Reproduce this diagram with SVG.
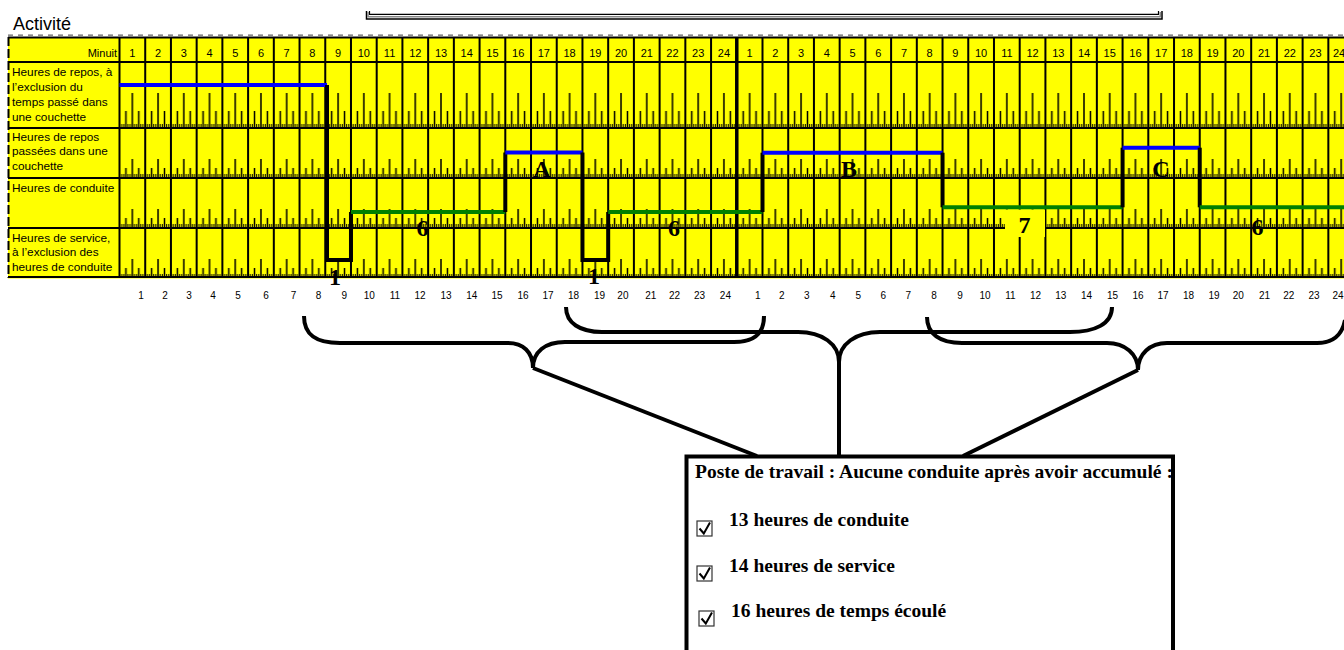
<svg xmlns="http://www.w3.org/2000/svg" width="1344" height="650" viewBox="0 0 1344 650">
<style>
.lbl{font-family:"Liberation Sans",Arial,sans-serif;font-size:11.8px;fill:#000}
.hd{font-family:"Liberation Sans",Arial,sans-serif;font-size:11px;text-anchor:middle;fill:#000}
.ax{font-family:"Liberation Sans",Arial,sans-serif;font-size:10px;text-anchor:middle;fill:#000}
.big{font-family:"Liberation Serif","Times New Roman",serif;font-weight:bold;font-size:24px;text-anchor:middle;fill:#000}
.bx{font-family:"Liberation Serif","Times New Roman",serif;font-weight:bold;font-size:19.5px;fill:#000}
.grid{stroke:#000;stroke-width:2;fill:none}
.blk{stroke:#000;stroke-width:4;fill:none}
.blu{stroke:#0000ff;stroke-width:4;fill:none}
.grn{stroke:#008000;stroke-width:4;fill:none}
.brace{stroke:#000;stroke-width:4;fill:none}
.cb{fill:#fff;stroke:#333;stroke-width:1.2}
.ck{fill:none;stroke:#000;stroke-width:2}
</style>
<defs>
<pattern id="tk1" patternUnits="userSpaceOnUse" x="119.5" y="62" width="25.72" height="66">
<path d="M12.86 31V66M6.43 49V66M19.29 49V66" stroke="#000" stroke-width="1.5"/>
<path d="M2.14 62V66M4.29 62V66M8.57 62V66M10.72 62V66M15 62V66M17.15 62V66M21.43 62V66M23.58 62V66" stroke="#000" stroke-width="1"/>
</pattern>
<pattern id="tk2" patternUnits="userSpaceOnUse" x="119.5" y="128" width="25.72" height="50">
<path d="M12.86 31V50M6.43 40V50M19.29 40V50" stroke="#000" stroke-width="1.5"/>
<path d="M2.14 46V50M4.29 46V50M8.57 46V50M10.72 46V50M15 46V50M17.15 46V50M21.43 46V50M23.58 46V50" stroke="#000" stroke-width="1"/>
</pattern>
</defs>
<rect width="1344" height="650" fill="#fff"/>

<g id="title">
<text x="13" y="30" style="font-family:'Liberation Sans',Arial,sans-serif;font-size:18px">Activité</text>
<path d="M366.5 11V19H1162V11" stroke="#000" stroke-width="1.5" fill="none"/>
<path d="M368 12V16.7H1160.3V12" stroke="#888" stroke-width="1.5" fill="none"/>
<path d="M369.5 11V14.3H1158.5V11" stroke="#000" stroke-width="1.2" fill="none"/>
</g>

<g id="chart">
<rect x="8" y="37" width="1336" height="241.5" fill="#ffff00"/>
<rect x="119.5" y="62" width="1236" height="66" fill="url(#tk1)"/>
<rect x="119.5" y="128" width="1236" height="150" fill="url(#tk2)"/>
<path class="grid" d="M8 62H1344M8 128H1344M8 178H1344M8 228H1344M8 277H1344"/>
<path class="grid" d="M8 37.5H1344" stroke-width="2.5"/>
<path d="M8 35.2H1344" stroke="#666" stroke-width="1.3" stroke-dasharray="5 5" fill="none"/>
<path d="M8.5 37V278" stroke="#000" stroke-width="2" stroke-dasharray="9 3" fill="none"/>
<path class="grid" d="M119.5 37V277M145.22 37V277M170.94 37V277M196.66 37V277M222.38 37V277M248.1 37V277M273.82 37V277M299.54 37V277M325.26 37V277M350.98 37V277M376.7 37V277M402.42 37V277M428.14 37V277M453.86 37V277M479.58 37V277M505.3 37V277M531.02 37V277M556.74 37V277M582.46 37V277M608.18 37V277M633.9 37V277M659.62 37V277M685.34 37V277M711.06 37V277M762.5 37V277M788.22 37V277M813.94 37V277M839.66 37V277M865.38 37V277M891.1 37V277M916.82 37V277M942.54 37V277M968.26 37V277M993.98 37V277M1019.7 37V277M1045.42 37V277M1071.14 37V277M1096.86 37V277M1122.58 37V277M1148.3 37V277M1174.02 37V277M1199.74 37V277M1225.46 37V277M1251.18 37V277M1276.9 37V277M1302.62 37V277M1328.34 37V277"/>
<path d="M736.78 37V277" stroke="#000" stroke-width="3.5"/>

<text class="hd" x="117" y="56.5" style="text-anchor:end">Minuit</text>
<text class="hd" x="132.36" y="56.5">1</text>
<text class="hd" x="158.08" y="56.5">2</text>
<text class="hd" x="183.8" y="56.5">3</text>
<text class="hd" x="209.52" y="56.5">4</text>
<text class="hd" x="235.24" y="56.5">5</text>
<text class="hd" x="260.96" y="56.5">6</text>
<text class="hd" x="286.68" y="56.5">7</text>
<text class="hd" x="312.4" y="56.5">8</text>
<text class="hd" x="338.12" y="56.5">9</text>
<text class="hd" x="363.84" y="56.5">10</text>
<text class="hd" x="389.56" y="56.5">11</text>
<text class="hd" x="415.28" y="56.5">12</text>
<text class="hd" x="441" y="56.5">13</text>
<text class="hd" x="466.72" y="56.5">14</text>
<text class="hd" x="492.44" y="56.5">15</text>
<text class="hd" x="518.16" y="56.5">16</text>
<text class="hd" x="543.88" y="56.5">17</text>
<text class="hd" x="569.6" y="56.5">18</text>
<text class="hd" x="595.32" y="56.5">19</text>
<text class="hd" x="621.04" y="56.5">20</text>
<text class="hd" x="646.76" y="56.5">21</text>
<text class="hd" x="672.48" y="56.5">22</text>
<text class="hd" x="698.2" y="56.5">23</text>
<text class="hd" x="723.92" y="56.5">24</text>
<text class="hd" x="749.64" y="56.5">1</text>
<text class="hd" x="775.36" y="56.5">2</text>
<text class="hd" x="801.08" y="56.5">3</text>
<text class="hd" x="826.8" y="56.5">4</text>
<text class="hd" x="852.52" y="56.5">5</text>
<text class="hd" x="878.24" y="56.5">6</text>
<text class="hd" x="903.96" y="56.5">7</text>
<text class="hd" x="929.68" y="56.5">8</text>
<text class="hd" x="955.4" y="56.5">9</text>
<text class="hd" x="981.12" y="56.5">10</text>
<text class="hd" x="1006.84" y="56.5">11</text>
<text class="hd" x="1032.56" y="56.5">12</text>
<text class="hd" x="1058.28" y="56.5">13</text>
<text class="hd" x="1084" y="56.5">14</text>
<text class="hd" x="1109.72" y="56.5">15</text>
<text class="hd" x="1135.44" y="56.5">16</text>
<text class="hd" x="1161.16" y="56.5">17</text>
<text class="hd" x="1186.88" y="56.5">18</text>
<text class="hd" x="1212.6" y="56.5">19</text>
<text class="hd" x="1238.32" y="56.5">20</text>
<text class="hd" x="1264.04" y="56.5">21</text>
<text class="hd" x="1289.76" y="56.5">22</text>
<text class="hd" x="1315.48" y="56.5">23</text>
<text class="hd" x="1339" y="56.5">24</text>

<text class="lbl" x="12" y="75.5">Heures de repos, à</text>
<text class="lbl" x="12" y="90.5">l’exclusion du</text>
<text class="lbl" x="12" y="105.5">temps passé dans</text>
<text class="lbl" x="12" y="120.5">une couchette</text>
<text class="lbl" x="12" y="140.5">Heures de repos</text>
<text class="lbl" x="12" y="155">passées dans une</text>
<text class="lbl" x="12" y="169.5">couchette</text>
<text class="lbl" x="12" y="191.5">Heures de conduite</text>
<text class="lbl" x="12" y="241.5">Heures de service,</text>
<text class="lbl" x="12" y="256">à l’exclusion des</text>
<text class="lbl" x="12" y="270.5">heures de conduite</text>

<text class="ax" x="141" y="298.5">1</text>
<text class="ax" x="165" y="298.5">2</text>
<text class="ax" x="189" y="298.5">3</text>
<text class="ax" x="213" y="298.5">4</text>
<text class="ax" x="238" y="298.5">5</text>
<text class="ax" x="266" y="298.5">6</text>
<text class="ax" x="293.6" y="298.5">7</text>
<text class="ax" x="318.6" y="298.5">8</text>
<text class="ax" x="344.3" y="298.5">9</text>
<text class="ax" x="369.3" y="298.5">10</text>
<text class="ax" x="395" y="298.5">11</text>
<text class="ax" x="420" y="298.5">12</text>
<text class="ax" x="446" y="298.5">13</text>
<text class="ax" x="471.8" y="298.5">14</text>
<text class="ax" x="497" y="298.5">15</text>
<text class="ax" x="523" y="298.5">16</text>
<text class="ax" x="548" y="298.5">17</text>
<text class="ax" x="573.6" y="298.5">18</text>
<text class="ax" x="599.6" y="298.5">19</text>
<text class="ax" x="622.9" y="298.5">20</text>
<text class="ax" x="650.7" y="298.5">21</text>
<text class="ax" x="674.6" y="298.5">22</text>
<text class="ax" x="699.6" y="298.5">23</text>
<text class="ax" x="725.4" y="298.5">24</text>
<text class="ax" x="757.9" y="298.5">1</text>
<text class="ax" x="781.8" y="298.5">2</text>
<text class="ax" x="806.8" y="298.5">3</text>
<text class="ax" x="832.8" y="298.5">4</text>
<text class="ax" x="858.3" y="298.5">5</text>
<text class="ax" x="883.3" y="298.5">6</text>
<text class="ax" x="908.3" y="298.5">7</text>
<text class="ax" x="934" y="298.5">8</text>
<text class="ax" x="960" y="298.5">9</text>
<text class="ax" x="985" y="298.5">10</text>
<text class="ax" x="1010.5" y="298.5">11</text>
<text class="ax" x="1035.5" y="298.5">12</text>
<text class="ax" x="1060.7" y="298.5">13</text>
<text class="ax" x="1086.5" y="298.5">14</text>
<text class="ax" x="1112.5" y="298.5">15</text>
<text class="ax" x="1138" y="298.5">16</text>
<text class="ax" x="1163" y="298.5">17</text>
<text class="ax" x="1188.5" y="298.5">18</text>
<text class="ax" x="1214" y="298.5">19</text>
<text class="ax" x="1238.3" y="298.5">20</text>
<text class="ax" x="1264.5" y="298.5">21</text>
<text class="ax" x="1288.8" y="298.5">22</text>
<text class="ax" x="1314" y="298.5">23</text>
<text class="ax" x="1338" y="298.5">24</text>
</g>

<g id="activity">
<rect x="1005" y="209.5" width="40" height="27.5" fill="#ffff00"/>
<path class="blu" d="M119.5 85H327"/>
<path class="blk" d="M327 85V260H350.98V212"/>
<path class="grn" d="M350.98 212H505.3"/>
<path class="blk" d="M505.3 212V152.5"/>
<path class="blu" d="M505.3 152.5H582.46"/>
<path class="blk" d="M582.46 152.5V260H608.18V212"/>
<path class="grn" d="M608.18 212H762.5"/>
<path class="blk" d="M762.5 212V152.7"/>
<path class="blu" d="M762.5 152.7H942.54"/>
<path class="blk" d="M942.54 152.7V207.3"/>
<path class="grn" d="M942.54 207.3H1122.58"/>
<path class="blk" d="M1122.58 207.3V147.7"/>
<path class="blu" d="M1122.58 147.7H1199.74"/>
<path class="blk" d="M1199.74 147.7V207.3"/>
<path class="grn" d="M1199.74 207.3H1344"/>
<text class="big" x="335" y="285">1</text>
<text class="big" x="594" y="284">1</text>
<text class="big" x="422.5" y="236">6</text>
<text class="big" x="674" y="236">6</text>
<text class="big" x="542" y="176.5">A</text>
<text class="big" x="849" y="177">B</text>
<text class="big" x="1161" y="177">C</text>
<text class="big" x="1024.5" y="233">7</text>
<text class="big" x="1257.5" y="235">6</text>
</g>

<g id="braces">
<path class="brace" d="M304 316C304 335 316 343 340 343L508 343C523 343 533 352 533 368C533 352 545 342 565 342L734 342C754 342 764 334 764 316"/>
<path class="brace" d="M566 307C566 323 580 332 602 332L798 332C822 332 839 344 839 362C839 344 856 332 880 332L1070 332C1095 332 1112 324 1112 307"/>
<path class="brace" d="M927 317C927 334 940 343 962 343L1107 343C1125 343 1138 354 1138 370C1138 354 1150 343 1167 343L1317 343C1332 343 1342 336 1345 320"/>
</g>

<g id="connectors">
<path class="brace" d="M533 368L757 456"/>
<path class="brace" d="M839 362V456"/>
<path class="brace" d="M1138 370L963 456"/>
</g>

<g id="summary-box">
<rect x="686.5" y="456.5" width="486.5" height="220" fill="#fff"/>
<text class="bx" x="695" y="478">Poste de travail : Aucune conduite après avoir accumulé :</text>
<rect class="cb" x="697" y="521" width="15" height="15"/>
<path class="ck" d="M699.5 528.5L703.8 533.5L710 522.5"/>
<text class="bx" x="729" y="526">13 heures de conduite</text>
<rect class="cb" x="697" y="566" width="15" height="15"/>
<path class="ck" d="M699.5 573.5L703.8 578.5L710 567.5"/>
<text class="bx" x="729" y="572">14 heures de service</text>
<rect class="cb" x="699" y="611" width="15" height="15"/>
<path class="ck" d="M701.5 618.5L705.8 623.5L712 612.5"/>
<text class="bx" x="731" y="617">16 heures de temps écoulé</text>
<rect x="686.5" y="456.5" width="486.5" height="220" fill="none" stroke="#000" stroke-width="4"/>
</g>
</svg>
